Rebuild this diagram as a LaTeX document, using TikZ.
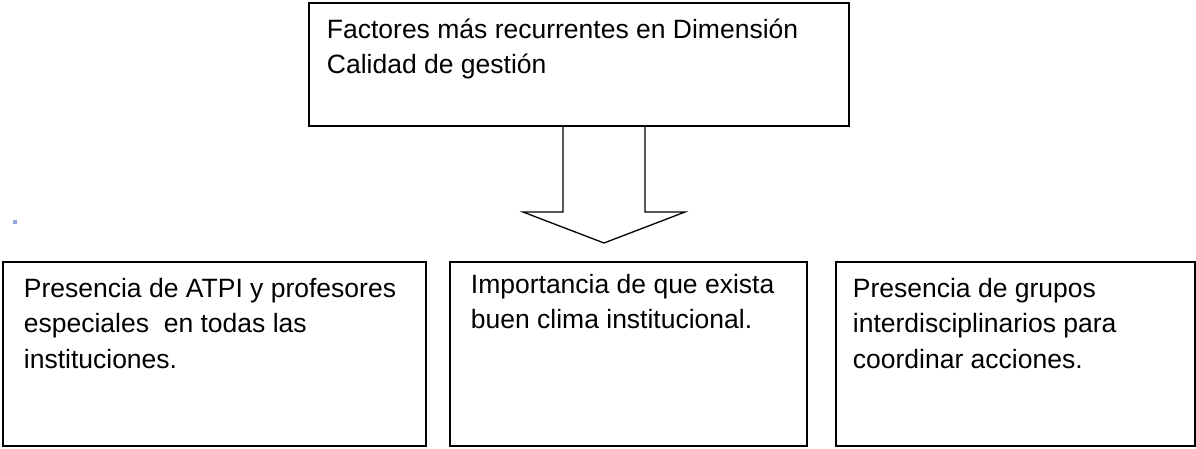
\documentclass[tikz,border=0pt]{standalone}
\usepackage{fontspec}
\setmainfont{Liberation Sans}
\usetikzlibrary{calc}
\usetikzlibrary{positioning}
\definecolor{azulmarca}{RGB}{143,170,218}
\tikzstyle{caja}  =[draw, line width=1.8pt, anchor=north west, font=\fontsize{26.5}{35.5}\selectfont]
\tikzstyle{flecha}=[line width=1.3pt, line join=miter]

\begin{document}
\begin{tikzpicture}[x=1pt,y=-1pt]

\useasboundingbox (0,0) rectangle (1196,448);

%%%%%%%%%%%%%%%%%%%%%%%%
%Caja superior
%%%%%%%%%%%%%%%%%%%%%%%%

\node[caja, inner xsep=18pt, inner ysep=16pt] (sup) at (308,2)
{\parbox[t][91pt][t]{504pt}{Factores más recurrentes en Dimensión\\Calidad de gestión}};

%%%%%%%%%%%%%%%%%%%%%%%%
%Flecha gruesa hacia abajo
%%%%%%%%%%%%%%%%%%%%%%%%

\def \anchoCuerpo {41} %mitad del ancho del cuerpo
\def \anchoPunta {81} %mitad del ancho de la punta
\def \largoPunta {31} %altura de la punta

\coordinate (punta) at (604,243);
\coordinate (ci) at ($(punta)+(-\anchoPunta,-\largoPunta)$);
\coordinate (cd) at ($(punta)+(\anchoPunta,-\largoPunta)$);
\coordinate (si) at ($(punta)+(-\anchoCuerpo,-\largoPunta)$);
\coordinate (sd) at ($(punta)+(\anchoCuerpo,-\largoPunta)$);
\draw[flecha] (si |- sup.south) -- (si) -- (ci) -- (punta) -- (cd) -- (sd) -- (sd |- sup.south);

%marca azul suelta
\fill[azulmarca] (12.5,219.5) rectangle (16.5,223.5);

%%%%%%%%%%%%%%%%%%%%%%%%
%Cajas inferiores
%%%%%%%%%%%%%%%%%%%%%%%%

\node[caja, inner xsep=21pt, inner ysep=16pt] (c1) at (2,261)
{\parbox[t][152pt][t]{381pt}{Presencia de ATPI y profesores\\especiales~ en todas las\\instituciones.}};

\node[caja, inner xsep=21pt, inner ysep=12pt] (c2) at (449,261)
{\parbox[t][160pt][t]{315pt}{Importancia de que exista\\buen clima institucional.}};

\node[caja, inner xsep=17pt, inner ysep=16pt] (c3) at (835,261)
{\parbox[t][152pt][t]{325pt}{Presencia de grupos\\interdisciplinarios para\\coordinar acciones.}};

\end{tikzpicture}
\end{document}
